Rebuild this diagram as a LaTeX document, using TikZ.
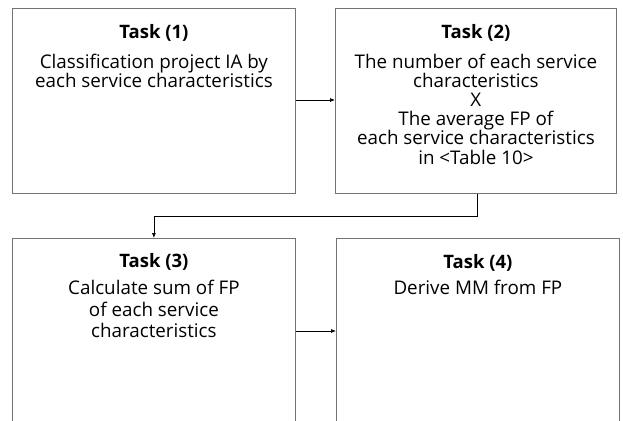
\documentclass[tikz,border=0pt]{standalone}
\usepackage{fontspec}
\setmainfont{Open Sans}
\usetikzlibrary{arrows.meta,positioning}
\begin{document}
\begin{tikzpicture}[x=1pt,y=1pt,
  taskbox/.style={draw=black!55,line width=0.8pt,rectangle,anchor=north west,inner sep=0pt},
  head/.style={font=\fontsize{18.5}{19}\selectfont\bfseries,anchor=base,inner sep=0pt},
  body/.style={font=\fontsize{18.8}{19.2}\selectfont,align=center,anchor=base,inner sep=0pt},
  conn/.style={draw=black,line width=0.7pt,-{Latex[length=5pt,width=4pt]}}]
\useasboundingbox (0,0) rectangle (623,-420);
\node[taskbox,minimum width=283pt,minimum height=185pt] (b1) at (12,-8) {};
\node[taskbox,minimum width=281pt,minimum height=185pt] (b2) at (335,-8) {};
\node[taskbox,minimum width=283pt,minimum height=190pt] (b3) at (12,-238) {};
\node[taskbox,minimum width=283pt,minimum height=190pt] (b4) at (336,-238) {};
\node[head] (h1) at ([yshift=-30.5pt]b1.north) {Task (1)};
\node[body] (t1) at ([yshift=-79.5pt]b1.north) {Classification project IA by\\each service characteristics};
\node[head] (h2) at ([yshift=-30.5pt]b2.north) {Task (2)};
\node[body] (t2) at ([yshift=-156pt]b2.north) {The number of each service\\characteristics\\X\\The average FP of\\each service characteristics\\in <Table 10>};
\node[head] (h3) at ([yshift=-29.5pt]b3.north) {Task (3)};
\node[body,font=\fontsize{18.8}{21.5}\selectfont] (t3) at ([yshift=-99.5pt]b3.north) {Calculate sum of FP\\of each service\\characteristics};
\node[head] (h4) at ([yshift=-30pt]b4.north) {Task (4)};
\node[body] (t4) at ([yshift=-56.5pt]b4.north) {Derive MM from FP};
\coordinate (c1) at (b1.east |- 0,-100);
\draw[conn] (c1) -- (c1 -| b2.west);
\coordinate (c2) at (477,-216);
\draw[conn] (b2.south -| c2) -- (c2) -- (c2 -| b3.north) -- (b3.north);
\coordinate (c3) at (b3.east |- 0,-331);
\draw[conn] (c3) -- (c3 -| b4.west);
\end{tikzpicture}
\end{document}
